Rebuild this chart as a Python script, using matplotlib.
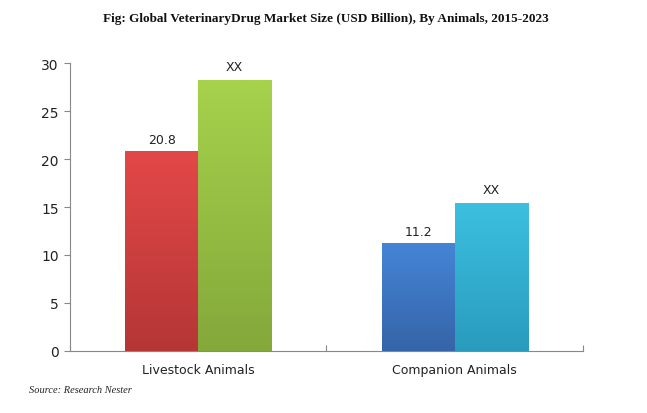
import matplotlib
matplotlib.use("Agg")
import matplotlib.pyplot as plt
import numpy as np
from matplotlib.colors import LinearSegmentedColormap

categories = ["Livestock Animals", "Companion Animals"]
values_2015 = [20.8, 11.2]
values_2023 = [28.2, 15.4]
labels_2015 = ["20.8", "11.2"]
labels_2023 = ["XX", "XX"]
yticks = [0, 5, 10, 15, 20, 25, 30]

colors_2015 = [("#e34848", "#b53636"), ("#4585d6", "#3564a8")]
colors_2023 = [("#a6d24c", "#84a83a"), ("#3cc0e0", "#2a9bbd")]

fig = plt.figure(figsize=(6.47, 4.14), dpi=100)
ax = fig.add_axes([0.108, 0.150, 0.793, 0.695])

x = np.arange(len(categories))
w = 0.285

def grad_bar(bx, h, cols):
    bars = ax.bar(bx, h, width=w, color=cols[1], edgecolor="#888888", linewidth=0.6, zorder=2)
    for b in bars:
        x0, y0 = b.get_x(), b.get_y()
        bw, bh = b.get_width(), b.get_height()
        cmap = LinearSegmentedColormap.from_list("g", [cols[0], cols[1]])
        grad = np.linspace(0, 1, 256).reshape(-1, 1)
        im = ax.imshow(grad, extent=[x0, x0 + bw, y0, y0 + bh], origin="upper",
                       cmap=cmap, aspect="auto", zorder=3)
        im.set_clip_path(b)
    return bars

for i in range(len(categories)):
    grad_bar([x[i] - w / 2], [values_2015[i]], colors_2015[i])
    grad_bar([x[i] + w / 2], [values_2023[i]], colors_2023[i])
    ax.text(x[i] - w / 2, values_2015[i] + 0.6, labels_2015[i], ha="center", va="bottom",
            fontsize=9, color="#222222")
    ax.text(x[i] + w / 2, values_2023[i] + 0.8, labels_2023[i], ha="center", va="bottom",
            fontsize=9, color="#222222")

ax.set_xlim(-0.5, 1.5)
ax.set_ylim(0, 30)
ax.set_yticks(yticks)
ax.set_yticklabels([str(t) for t in yticks], fontsize=10, color="#222222")
ax.set_xticks([-0.5, 0.5, 1.5])
ax.set_xticklabels([])
ax.set_xticks(x, minor=True)
ax.set_xticklabels(categories, minor=True, fontsize=9, color="#222222")
ax.tick_params(axis="x", which="minor", length=0, pad=9)
ax.tick_params(axis="x", which="major", length=4, color="#888888", direction="in")
ax.tick_params(axis="y", length=4, color="#888888", pad=4)
for s in ["top", "right"]:
    ax.spines[s].set_visible(False)
for s in ["left", "bottom"]:
    ax.spines[s].set_color("#888888")
    ax.spines[s].set_linewidth(0.8)

fig.text(0.504, 0.955, "Fig: Global VeterinaryDrug Market Size (USD Billion), By Animals, 2015-2023",
         ha="center", va="center", fontsize=9.5, fontweight="bold", family="Liberation Serif",
         color="#111111")
fig.text(0.045, 0.057, "Source: Research Nester", ha="left", va="center", fontsize=7.5,
         style="italic", family="Liberation Serif", color="#222222")

fig.savefig("out.png", dpi=100)
